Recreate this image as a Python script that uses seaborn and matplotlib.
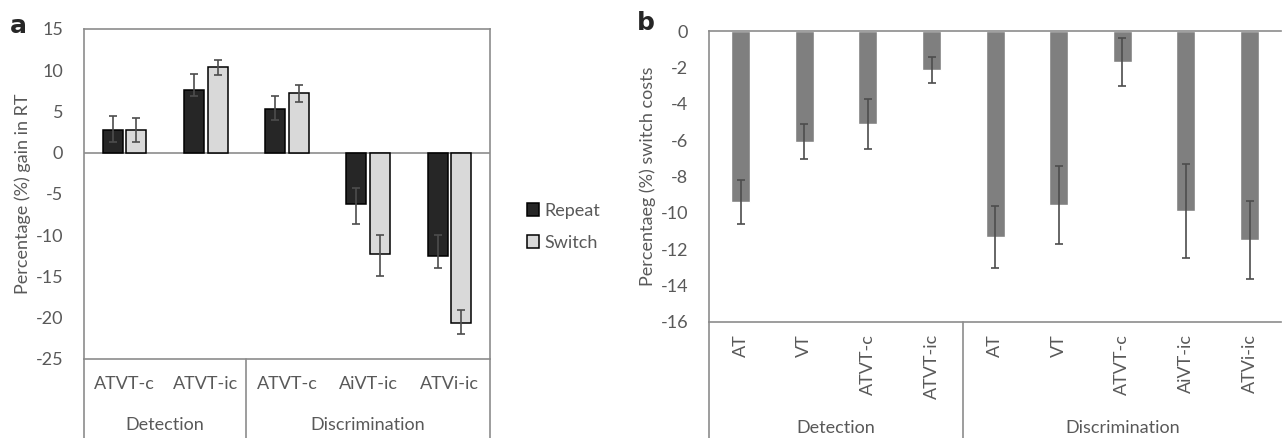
import pandas as pd
import seaborn as sns
import matplotlib.pyplot as plt

# Panel a: percentage gain in RT, repeat vs switch
tasks_a = ['Detection', 'Detection', 'Discrimination', 'Discrimination', 'Discrimination']
conds_a = ['ATVT-c', 'ATVT-ic', 'ATVT-c', 'AiVT-ic', 'ATVi-ic']
repeat = [2.8, 7.6, 5.3, -6.2, -12.5]
switch = [2.8, 10.35, 7.2, -12.3, -20.6]
repeat_minus = [1.55, 0.7, 1.33, 2.4, 1.5]
repeat_plus = [1.64, 1.9, 1.6, 1.9, 2.5]
switch_minus = [1.55, 0.9, 1.04, 2.6, 1.4]
switch_plus = [1.4, 0.85, 1.05, 2.3, 1.5]

# Panel b: switch costs
tasks_b = ['Detection'] * 4 + ['Discrimination'] * 5
conds_b = ['AT', 'VT', 'ATVT-c', 'ATVT-ic', 'AT', 'VT', 'ATVT-c', 'AiVT-ic', 'ATVi-ic']
costs = [-9.4, -6.1, -5.1, -2.15, -11.35, -9.6, -1.7, -9.9, -11.5]
costs_err = [1.2, 0.97, 1.37, 0.7, 1.7, 2.15, 1.33, 2.6, 2.13]

sns.set_style('white')
plt.rcParams['font.family'] = ['Lato', 'DejaVu Sans']
plt.rcParams['axes.unicode_minus'] = False
txt = '#595959'
line = '#8c8c8c'
fs = 13

keys_a = [t + ':' + c for t, c in zip(tasks_a, conds_a)]
df_a = pd.DataFrame({
    'key': keys_a * 2,
    'gain': repeat + switch,
    'trial': ['Repeat'] * 5 + ['Switch'] * 5,
})
keys_b = [t + ':' + c for t, c in zip(tasks_b, conds_b)]
df_b = pd.DataFrame({'key': keys_b, 'cost': costs})

fig = plt.figure(figsize=(12.82, 4.38), dpi=100)
ax1 = fig.add_axes([0.0655, 0.1804, 0.3167, 0.7534])
ax2 = fig.add_axes([0.553, 0.2655, 0.4465, 0.6637])

# ---- panel a
sns.barplot(data=df_a, x='key', y='gain', hue='trial', order=keys_a,
            palette=['#262626', '#d9d9d9'], width=0.58, gap=0.15,
            edgecolor='black', linewidth=1.1, errorbar=None, ax=ax1)
for cont, vals, lo, hi in zip(ax1.containers, [repeat, switch],
                              [repeat_minus, switch_minus], [repeat_plus, switch_plus]):
    xs = [p.get_x() + p.get_width() / 2 for p in cont.patches]
    ax1.errorbar(xs, vals, yerr=[lo, hi], fmt='none', ecolor='#4d4d4d',
                 elinewidth=1.2, capsize=3, capthick=1.2)
ax1.axhline(0, color=line, lw=1.2, zorder=0.5)
ax1.set_ylim(-25, 15)
ax1.set_xlim(-0.5, 4.5)
ax1.set_yticks(range(-25, 16, 5))
ax1.set_xticks(range(5))
ax1.set_xticklabels(conds_a)
ax1.set_xlabel('')
ax1.set_ylabel('Percentage (%) gain in RT', color=txt, fontsize=fs, labelpad=3)
ax1.tick_params(axis='x', length=0, pad=12, labelsize=fs, colors=txt)
ax1.tick_params(axis='y', length=0, pad=15, labelsize=fs, colors=txt)
for s in ax1.spines.values():
    s.set_color(line)
    s.set_linewidth(1.2)
for xb in [-0.5, 1.5, 4.5]:
    ax1.plot([xb, xb], [0, -0.24], transform=ax1.get_xaxis_transform(),
             color=line, lw=1.2, clip_on=False)
ax1.text(0.5, -0.2, 'Detection', transform=ax1.get_xaxis_transform(),
         ha='center', va='center', fontsize=fs, color=txt)
ax1.text(3, -0.2, 'Discrimination', transform=ax1.get_xaxis_transform(),
         ha='center', va='center', fontsize=fs, color=txt)
sns.move_legend(ax1, 'center left', bbox_to_anchor=(1.05, 0.4), frameon=False,
                title=None, fontsize=fs, handlelength=0.7, handleheight=0.7,
                handletextpad=0.3, labelspacing=0.9)
for t in ax1.get_legend().get_texts():
    t.set_color(txt)

# ---- panel b
sns.barplot(data=df_b, x='key', y='cost', order=keys_b, color='#7f7f7f',
            saturation=1, width=0.3, errorbar=None, ax=ax2)
xs = [p.get_x() + p.get_width() / 2 for p in ax2.containers[0].patches]
ax2.errorbar(xs, costs, yerr=costs_err, fmt='none', ecolor='#4d4d4d',
             elinewidth=1.2, capsize=3, capthick=1.2)
ax2.set_ylim(-16, 0)
ax2.set_xlim(-0.5, 8.5)
ax2.set_yticks(range(-16, 1, 2))
ax2.set_xticks(range(9))
ax2.set_xticklabels(conds_b, rotation=90, va='top')
ax2.set_xlabel('')
ax2.set_ylabel('Percentaeg (%) switch costs', color=txt, fontsize=fs, labelpad=3)
ax2.tick_params(axis='x', length=0, pad=9, labelsize=fs, colors=txt)
ax2.tick_params(axis='y', length=0, pad=15, labelsize=fs, colors=txt)
for s in ax2.spines.values():
    s.set_color(line)
    s.set_linewidth(1.2)
ax2.spines['right'].set_visible(False)
for xb in [-0.5, 3.5]:
    ax2.plot([xb, xb], [0, -0.4], transform=ax2.get_xaxis_transform(),
             color=line, lw=1.2, clip_on=False)
ax2.text(1.5, -0.366, 'Detection', transform=ax2.get_xaxis_transform(),
         ha='center', va='center', fontsize=fs, color=txt)
ax2.text(6, -0.366, 'Discrimination', transform=ax2.get_xaxis_transform(),
         ha='center', va='center', fontsize=fs, color=txt)

fig.text(0.008, 0.94, 'a', fontsize=18, fontweight='bold', ha='left', va='center',
         family='DejaVu Sans')
fig.text(0.497, 0.948, 'b', fontsize=18, fontweight='bold', ha='left', va='center',
         family='DejaVu Sans')

fig.savefig('out.png', dpi=100)
